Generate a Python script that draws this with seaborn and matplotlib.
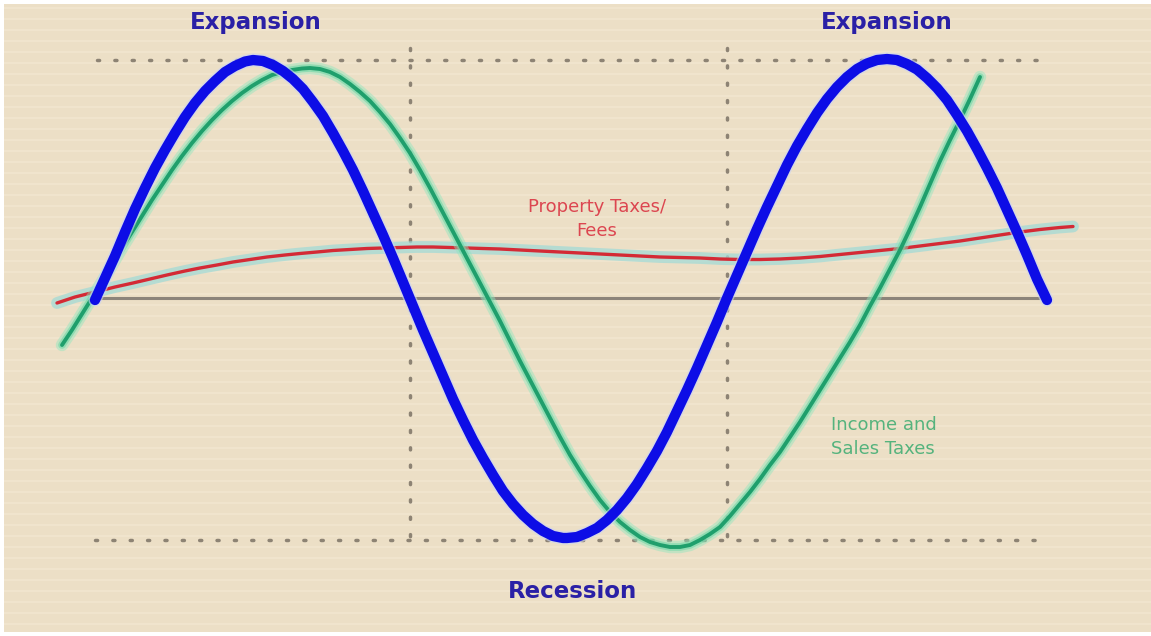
import numpy as np
import pandas as pd
import matplotlib
matplotlib.use("Agg")
import matplotlib.pyplot as plt
import seaborn as sns

# ---- data (in picture units; y grows downward) ----
blue_x = [95, 105, 115, 125, 135, 145, 155, 165, 175, 185, 195, 205, 215, 225, 235, 245, 253,
          263, 273, 283, 293, 303, 313, 323, 333, 343, 353, 363, 373, 383, 393, 403, 413, 423,
          433, 443, 453, 463, 473, 483, 493, 503, 513, 523, 533, 543, 553, 563, 567,
          577, 587, 597, 607, 617, 627, 637, 647, 657, 667, 677, 687, 697, 707, 717, 727,
          737, 747, 757, 767, 777, 787, 797, 807, 817, 827, 837, 847, 857, 867, 877, 887,
          897, 907, 917, 927, 937, 947, 957, 967, 977, 987, 997, 1007, 1017, 1027, 1037, 1047]
blue_y = [300, 278, 256, 232, 209, 188, 168, 150, 133, 117, 103, 91, 81, 72, 66, 61.5, 60,
          61, 65, 71, 79, 89, 102, 116, 133, 151, 170, 191, 213, 235, 258, 282, 306, 330,
          353, 376, 399, 420, 440, 458, 475, 491, 504, 515, 524, 531, 536, 538, 538,
          537, 533, 528, 520, 510, 498, 484, 468, 451, 432, 411, 390, 368, 345, 322, 298,
          275, 252, 229, 207, 186, 165, 146, 129, 113, 99, 87, 77, 69, 63.5, 60, 59,
          60, 64, 69.5, 78, 88, 100, 115, 131, 149, 168, 188, 210, 232, 255, 279, 300]

green_x = [62, 72, 82, 92, 102, 112, 122, 132, 142, 152, 162, 172, 182, 192, 202, 212, 222,
           232, 242, 252, 262, 272, 282, 292, 302, 310, 320, 330, 340, 350, 360, 370, 380,
           390, 400, 410, 420, 430, 440, 450, 460, 470, 480, 490, 500, 510, 520, 530, 540,
           550, 560, 570, 580, 590, 600, 610, 620, 630, 640, 650, 660, 670, 680, 690, 700,
           710, 720, 730, 740, 750, 760, 770, 780, 790, 800, 810, 820, 830, 840, 850, 860,
           870, 880, 890, 900, 910, 920, 930, 940, 950, 960, 970, 980]
green_y = [345, 330, 314, 298, 282, 265, 248, 232, 216, 200, 185, 170, 156, 143, 131, 120, 110,
           101, 93, 86, 80, 75, 72, 70, 68.5, 68, 69, 72, 77, 84, 92, 101, 112,
           124, 138, 153, 170, 188, 207, 226, 245, 264, 283, 302, 321, 341, 361, 380, 399,
           418, 437, 455, 471, 486, 500, 512, 522, 530, 537, 542, 545, 547, 547, 545, 540,
           534, 527, 516, 504, 492, 479, 465, 452, 437, 422, 406, 390, 374, 358, 342, 325,
           306, 288, 269, 250, 229, 207, 184, 161, 140, 120, 99, 77]

red_x = [57, 75, 95, 115, 133, 150, 167, 185, 200, 217, 233, 250, 267, 285, 300, 317, 333,
         350, 367, 383, 400, 417, 433, 450, 467, 483, 500, 520, 540, 560, 580, 600, 620, 640,
         660, 680, 700, 720, 740, 760, 780, 800, 820, 840, 860, 880, 900, 920, 940, 960, 980,
         1000, 1020, 1040, 1060, 1073]
red_y = [303, 297, 292, 287, 283, 279, 275, 271, 268, 265, 262, 259.5, 257, 255, 253.5, 252,
         250.5, 249.5, 248.5, 248, 247.5, 247, 247, 247.5, 248, 248.5, 249, 250, 251, 252, 253,
         254, 255, 256, 257, 257.5, 258, 259, 259.5, 259.5, 259, 258, 256.5, 254.5, 252.5,
         250.5, 248.5, 246, 243.5, 241, 238, 235, 232, 229.5, 227.5, 226.5]

phase_labels = ["Expansion", "Recession", "Expansion"]
phase_x = [256, 572, 887]
phase_y = [22, 592, 22]

baseline_y = 298
top_y, bottom_y = 60, 540
divider_x = [410, 727]

blue_df = pd.DataFrame({"x": blue_x, "y": blue_y})
green_df = pd.DataFrame({"x": green_x, "y": green_y})
red_df = pd.DataFrame({"x": red_x, "y": red_y})

sns.set_theme(style="white")
plt.rcParams["font.family"] = ["DejaVu Sans"]

W, H = 1151, 636
fig = plt.figure(figsize=(W / 100, H / 100), dpi=100, facecolor="white")
ax = fig.add_axes([4 / W, 4 / H, 1147 / W, 628 / H])
ax.set_facecolor("#ecdfc6")
ax.set_xlim(4, 1151)
ax.set_ylim(632, 4)
ax.set_axis_off()
ax.add_patch(plt.Rectangle((4, 4), 1147, 628, color="#ecdfc6", zorder=0))

# faint paper stripes
for yy in np.arange(8, 632, 11):
    ax.axhline(yy, color="#f6ecd8", lw=1.2, alpha=0.5, zorder=0.5)

# dotted frame
dot = dict(color="#8d8374", lw=2.5, linestyle=(0, (0.6, 4.4)), dash_capstyle="round", zorder=1)
ax.plot([97, 1043], [top_y, top_y], **dot)
ax.plot([95, 1045], [bottom_y, bottom_y], **dot)
for xv in divider_x:
    ax.plot([xv, xv], [48, bottom_y], **dot)

# baseline
ax.plot([92, 1040], [baseline_y, baseline_y], color="#8c847a", lw=2.2, zorder=1.5,
        solid_capstyle="butt")

# red line with cyan glow
sns.lineplot(data=red_df, x="x", y="y", sort=False, ax=ax, color="#a3dad6", lw=8.5,
             alpha=0.75, zorder=2)
sns.lineplot(data=red_df, x="x", y="y", sort=False, ax=ax, color="#d42a35", lw=2.4,
             zorder=2.2)

# green line with glow
sns.lineplot(data=green_df, x="x", y="y", sort=False, ax=ax, color="#8fe6bf", lw=9,
             alpha=0.45, zorder=3)
sns.lineplot(data=green_df, x="x", y="y", sort=False, ax=ax, color="#6fd8a8", lw=5.5,
             alpha=0.6, zorder=3.1)
sns.lineplot(data=green_df, x="x", y="y", sort=False, ax=ax, color="#1f9f6c", lw=2.8,
             zorder=3.2)

# blue line
sns.lineplot(data=blue_df, x="x", y="y", sort=False, ax=ax, color="#c9d4f5", lw=9.5,
             alpha=0.6, zorder=4)
sns.lineplot(data=blue_df, x="x", y="y", sort=False, ax=ax, color="#0d0de6", lw=7.4,
             zorder=4.1, solid_capstyle="round")

# labels
for lab, xx, yy in zip(phase_labels, phase_x, phase_y):
    ax.text(xx, yy, lab, ha="center", va="center", fontsize=16.5, fontweight="bold",
            color="#2a20a6", zorder=6)

ax.text(597, 219, "Property Taxes/\nFees", ha="center", va="center", fontsize=13,
        color="#dc4650", linespacing=1.5, zorder=6)
ax.text(831, 437, "Income and\nSales Taxes", ha="left", va="center", fontsize=13,
        color="#55b37d", linespacing=1.5, zorder=6)

if ax.get_legend() is not None:
    ax.get_legend().remove()

fig.savefig("out.png", dpi=100, facecolor="white")
